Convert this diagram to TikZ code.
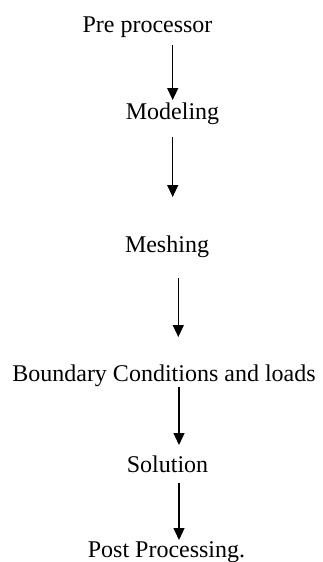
\documentclass[tikz,border=0pt]{standalone}
\usepackage{fontspec}
\setmainfont{Liberation Serif}
\usetikzlibrary{arrows.meta}
\begin{document}
\begin{tikzpicture}[x=1pt,y=1pt,
  lbl/.style={inner sep=0pt, anchor=base, font=\fontsize{24}{28}\selectfont},
  arr/.style={line width=1.3pt, -{Triangle[length=12pt,width=11pt]}}]
\useasboundingbox (0,0) rectangle (323,-562);
\node[lbl] (pre) at (147.5,-32) {Pre processor};
\node[lbl] (mod) at (172.5,-119) {Modeling};
\node[lbl] (mesh) at (167,-252) {Meshing};
\node[lbl] (bc) at (164,-381) {Boundary Conditions and loads};
\node[lbl] (sol) at (167.5,-472) {Solution};
\node[lbl] (post) at (166.5,-557) {Post Processing.};
\coordinate (a1s) at (172.7,-45);  \coordinate (a1e) at (172.7,-100);
\coordinate (a2s) at (172.7,-137); \coordinate (a2e) at (172.7,-197);
\coordinate (a3s) at (178.3,-278); \coordinate (a3e) at (178.3,-337);
\coordinate (a4s) at (179,-387);   \coordinate (a4e) at (179,-445);
\coordinate (a5s) at (179,-483);   \coordinate (a5e) at (179,-540);
\draw[arr] (a1s) -- (a1e);
\draw[arr] (a2s) -- (a2e);
\draw[arr] (a3s) -- (a3e);
\draw[arr] (a4s) -- (a4e);
\draw[arr] (a5s) -- (a5e);
\end{tikzpicture}
\end{document}
